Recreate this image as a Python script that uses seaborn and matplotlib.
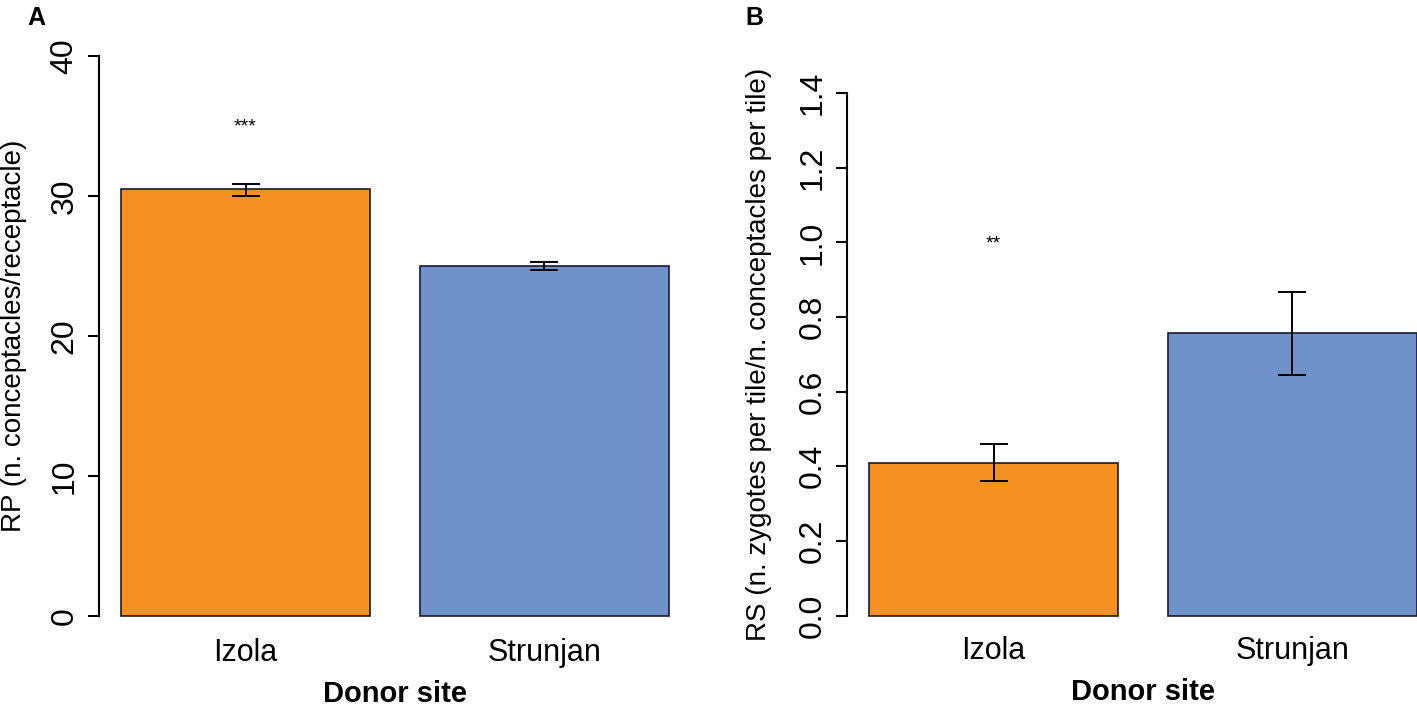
import pandas as pd
import matplotlib.pyplot as plt
import seaborn as sns

# donor sites and bar colours
sites = ['Izola', 'Strunjan']
colors = ['#F39020', '#6E92C9']

# panel A: RP
rp_mean = [30.48, 25.0]
rp_low = [30.02, 24.70]
rp_high = [30.88, 25.28]
rp_ticks = [0, 10, 20, 30, 40]
rp_sig = ['***', '']
rp_sig_y = [34.9, 0]

# panel B: RS
rs_mean = [0.41, 0.757]
rs_low = [0.361, 0.645]
rs_high = [0.46, 0.867]
rs_ticks = [0.0, 0.2, 0.4, 0.6, 0.8, 1.0, 1.2, 1.4]
rs_tick_labels = ['0.0', '0.2', '0.4', '0.6', '0.8', '1.0', '1.2', '1.4']
rs_sig = ['**', '']
rs_sig_y = [0.997, 0]


def draw_panel(ax, mean, low, high, ticks, tick_labels, ylim, ylabel, sig, sig_y):
    df = pd.DataFrame({'site': sites, 'value': mean})
    sns.barplot(data=df, x='site', y='value', hue='site', palette=colors,
                legend=False, ax=ax, width=1 / 1.2, errorbar=None,
                edgecolor='#1a1a2e', linewidth=1.2, saturation=1)
    xs = list(range(len(sites)))
    yerr = [[m - l for m, l in zip(mean, low)], [h - m for m, h in zip(mean, high)]]
    ax.errorbar(xs, mean, yerr=yerr, fmt='none', ecolor='black',
                elinewidth=1.4, capsize=10, capthick=1.4)
    for x, s, y in zip(xs, sig, sig_y):
        if s:
            ax.text(x, y, s, ha='center', va='center', fontsize=14, color='black')
    ax.set_xlim(-0.49, 1.49)
    ax.set_ylim(*ylim)
    ax.set_yticks(ticks)
    ax.set_yticklabels(tick_labels, rotation=90, va='center')
    ax.tick_params(axis='y', left=True, length=8, width=1.5, labelsize=23,
                   pad=6, color='black', labelcolor='black', direction='out')
    ax.tick_params(axis='x', length=0, labelsize=22, pad=0, labelcolor='black')
    for side in ['top', 'right', 'bottom']:
        ax.spines[side].set_visible(False)
    ax.spines['left'].set_linewidth(1.5)
    ax.spines['left'].set_color('black')
    ax.spines['left'].set_bounds(ticks[0], ticks[-1])
    ax.set_xlabel('Donor site', fontsize=21, fontweight='bold', labelpad=8.5, color='black')
    ax.set_ylabel(ylabel, fontsize=20, color='black')
    ax.patch.set_alpha(0)


def main():
    sns.set_style('ticks')
    plt.rcParams['font.family'] = ['Liberation Sans', 'DejaVu Sans']
    fig = plt.figure(figsize=(14.17, 7.07), dpi=100)

    ax_a = fig.add_axes([99 / 1417, 1 - 638.1 / 707, 592 / 1417, 604.4 / 707])
    draw_panel(ax_a, rp_mean, rp_low, rp_high, rp_ticks,
               [str(t) for t in rp_ticks], (-1.6, 41.6),
               'RP (n. conceptacles/receptacle)', rp_sig, rp_sig_y)
    ax_a.yaxis.set_label_coords((27 - 99) / 592, 0.5)

    ax_b = fig.add_axes([847 / 1417, 1 - 636.4 / 707, 592 / 1417, 564 / 707])
    draw_panel(ax_b, rs_mean, rs_low, rs_high, rs_ticks, rs_tick_labels,
               (-0.056, 1.456),
               'RS (n. zygotes per tile/n. conceptacles per tile)', rs_sig, rs_sig_y)
    ax_b.yaxis.set_label_coords((772 - 847) / 592, 0.5)

    fig.text(27 / 1417, 1 - 25 / 707, 'A', fontsize=18, fontweight='bold',
             va='baseline', color='black')
    fig.text(745 / 1417, 1 - 25 / 707, 'B', fontsize=18, fontweight='bold',
             va='baseline', color='black')

    fig.savefig('out.png', dpi=100)
    plt.close(fig)


if __name__ == '__main__':
    main()
